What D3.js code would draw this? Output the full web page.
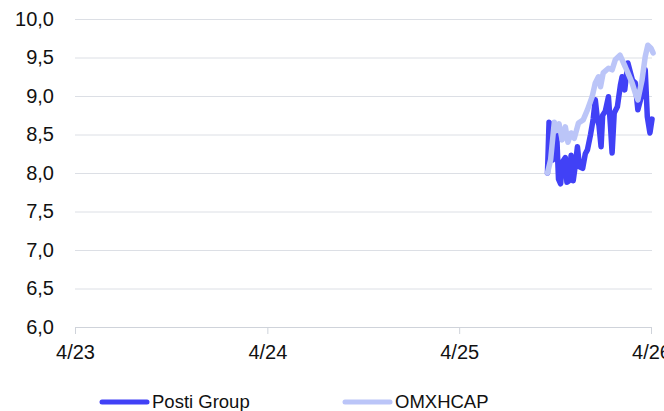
<!DOCTYPE html>
<html>
<head>
<meta charset="utf-8">
<script src="https://cdn.jsdelivr.net/npm/d3@7"></script>
<style>
  body { margin: 0; background: #fff; }
  svg { display: block; font-family: "Liberation Sans", Arial, sans-serif; }
</style>
</head>
<body>
<div id="chart"></div>
<script>
var postiDates = ["2025-09-16","2025-09-19","2025-09-22","2025-09-26","2025-09-30","2025-10-03","2025-10-07","2025-10-11","2025-10-15","2025-10-20","2025-10-23","2025-10-27","2025-10-31","2025-11-04","2025-11-08","2025-11-12","2025-11-16","2025-11-22","2025-11-27","2025-12-01","2025-12-07","2025-12-12","2025-12-16","2025-12-20","2025-12-23","2025-12-27","2025-12-30","2026-01-04","2026-01-10","2026-01-14","2026-01-17","2026-01-21","2026-01-27","2026-02-02","2026-02-05","2026-02-10","2026-02-16","2026-02-21","2026-02-25","2026-03-02","2026-03-07","2026-03-12","2026-03-16","2026-03-21","2026-03-25","2026-03-30","2026-04-03"];
var postiValues = [8.00,8.66,8.62,8.17,8.20,8.60,7.92,7.86,8.15,8.20,7.88,7.90,8.23,7.90,8.10,8.34,8.08,8.06,8.25,8.30,8.50,8.70,8.95,8.70,8.62,8.34,8.75,8.80,8.99,8.60,8.26,8.78,8.86,9.15,9.25,9.08,9.43,9.30,9.20,9.17,8.82,8.95,9.05,9.34,8.73,8.52,8.70];

var omxDates = ["2025-09-16","2025-09-22","2025-09-29","2025-10-03","2025-10-08","2025-10-14","2025-10-20","2025-10-25","2025-10-31","2025-11-06","2025-11-14","2025-11-23","2025-12-01","2025-12-10","2025-12-16","2025-12-22","2025-12-26","2025-12-31","2026-01-10","2026-01-17","2026-01-23","2026-02-01","2026-02-11","2026-02-16","2026-02-24","2026-03-02","2026-03-07","2026-03-15","2026-03-21","2026-03-26","2026-04-01","2026-04-05"];
var omxValues = [8.00,8.17,8.66,8.55,8.64,8.43,8.60,8.40,8.52,8.45,8.65,8.69,8.82,8.99,9.17,9.25,9.12,9.30,9.36,9.34,9.47,9.53,9.38,9.30,9.17,9.04,8.95,9.21,9.51,9.66,9.62,9.56];

var yTicks = [6.0,6.5,7.0,7.5,8.0,8.5,9.0,9.5,10.0];
var xTickDates = ["2023-04-01","2024-04-01","2025-04-01","2026-04-01"];
var seriesNames = ["Posti Group","OMXHCAP"];
var seriesColors = ["#4141f6","#bbc5f8"];

var width = 664, height = 411;
var margin = {left: 75, right: 13, top: 19, bottom: 84};

var parse = d3.timeParse("%Y-%m-%d");

var svg = d3.select("#chart").append("svg")
    .attr("width", width)
    .attr("height", height);

var x = d3.scaleTime()
    .domain([parse(xTickDates[0]), parse(xTickDates[3])])
    .range([margin.left, width - margin.right]);

var y = d3.scaleLinear()
    .domain([6, 10])
    .range([height - margin.bottom, margin.top]);

var fmt = function(d) { return d3.format(".1f")(d).replace(".", ","); };

// gridlines + y labels
var yAxis = svg.append("g")
    .attr("transform", "translate(" + margin.left + ",0)")
    .call(d3.axisLeft(y).tickValues(yTicks).tickFormat(fmt)
        .tickSize(-(width - margin.left - margin.right + 1)).tickPadding(21));
yAxis.select(".domain").remove();
yAxis.selectAll(".tick line").attr("stroke", "#dcdfe5").attr("stroke-width", 1);
yAxis.selectAll(".tick text")
    .attr("fill", "#111")
    .style("font-size", "20px");

// x axis
var xAxis = svg.append("g")
    .attr("transform", "translate(0," + y(6) + ")")
    .call(d3.axisBottom(x).tickValues(xTickDates.map(parse))
        .tickFormat(d3.timeFormat("%-m/%y")).tickSize(7).tickSizeOuter(0).tickPadding(11));
xAxis.select(".domain").attr("stroke", "#cfd3da");
xAxis.selectAll(".tick line").attr("stroke", "#cfd3da");
xAxis.selectAll(".tick text")
    .attr("fill", "#111")
    .style("font-size", "20px");

var line = d3.line()
    .x(function(d) { return x(d.date); })
    .y(function(d) { return y(d.value); });

var series = [
  postiDates.map(function(d, i) { return {date: parse(d), value: postiValues[i]}; }),
  omxDates.map(function(d, i) { return {date: parse(d), value: omxValues[i]}; })
];

svg.append("g").selectAll("path")
    .data(series)
    .enter().append("path")
      .attr("d", line)
      .attr("fill", "none")
      .attr("stroke", function(d, i) { return seriesColors[i]; })
      .attr("stroke-width", 5.5)
      .attr("stroke-linejoin", "round")
      .attr("stroke-linecap", "round");

// legend
var legendX = [102, 345];
var legend = svg.append("g").selectAll("g")
    .data(seriesNames)
    .enter().append("g")
      .attr("transform", function(d, i) { return "translate(" + legendX[i] + ",402)"; });

legend.append("line")
    .attr("x1", 0).attr("x2", 45)
    .attr("stroke", function(d, i) { return seriesColors[i]; })
    .attr("stroke-width", 5)
    .attr("stroke-linecap", "round");

legend.append("text")
    .attr("x", 50)
    .attr("y", 6)
    .attr("fill", "#111")
    .style("font-size", "18.5px")
    .text(function(d) { return d; });
</script>
</body>
</html>
